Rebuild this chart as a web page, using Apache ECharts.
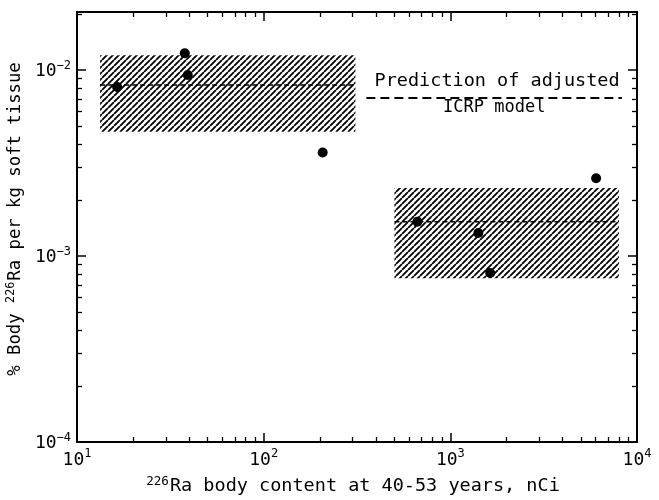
<!DOCTYPE html>
<html><head><meta charset="utf-8">
<script src="https://cdn.jsdelivr.net/npm/echarts@6/dist/echarts.min.js"></script>
<style>html,body{margin:0;padding:0;background:#fff}#c{width:659px;height:500px}</style>
</head><body><div id="c"></div>
<script>
// ---- data ----
const pointX = [16.4, 37.8, 39.2, 207, 666, 1412, 1636, 6040];
const pointY = [0.0081, 0.0123, 0.0094, 0.0036, 0.00153, 0.00133, 0.00081, 0.00262];
const bandX0 = [13.3, 502];
const bandX1 = [310, 8000];
const bandLow = [0.00465, 0.00076];
const bandHigh = [0.0120, 0.00232];
const bandMid = [0.0083, 0.00153];
const predictionX = [355, 8300];
const predictionY = [0.00706, 0.00706];
const xMajorTicks = [10, 100, 1000, 10000];
const yMajorTicks = [0.0001, 0.001, 0.01];
const minorMult = [2, 3, 4, 5, 6, 7, 8, 9];
const xMinorTicks = [10, 100, 1000].flatMap(d => minorMult.map(m => d * m));
const yMinorTicks = [0.0001, 0.001, 0.01].flatMap(d => minorMult.map(m => +(d * m).toPrecision(3)));
const predictionLabel1 = 'Prediction of adjusted';
const predictionLabel2 = 'ICRP model';
const xTitle = '{s|226}{t|Ra body content at 40-53 years, nCi}';
const yTitle = '{t|% Body }{s|226}{t|Ra per kg soft tissue}';

const FONT = '"DejaVu Sans Mono", monospace';
const X_MIN = 10, X_MAX = 10000, Y_MIN = 0.0001, Y_MAX = 0.0205;

function hatch() {
  const c = document.createElement('canvas');
  c.width = 6; c.height = 6;
  const g = c.getContext('2d');
  g.strokeStyle = '#000'; g.lineWidth = 1.8;
  g.beginPath();
  for (const dx of [-6, 0, 6]) { g.moveTo(dx, 6); g.lineTo(dx + 6, 0); }
  g.stroke();
  return c;
}
const hatchPattern = { image: hatch(), repeat: 'repeat' };

function powLabel(v) {
  const e = Math.round(Math.log10(v));
  return '{b|10}{s|' + (e < 0 ? '−' + (-e) : e) + '}';
}
const richLab = {
  b: { fontFamily: FONT, fontSize: 18, color: '#000', verticalAlign: 'bottom' },
  s: { fontFamily: FONT, fontSize: 12, color: '#000', verticalAlign: 'bottom', padding: [0, 0, 9, 0] }
};
function richName(size) {
  return {
    t: { fontFamily: FONT, fontSize: size, color: '#000', verticalAlign: 'bottom' },
    s: { fontFamily: FONT, fontSize: size * 0.68, color: '#000', verticalAlign: 'bottom', padding: [0, 1, Math.round(size * 0.42), 0] }
  };
}

function axisPair(pos, major, minor, min, max, withLabels, extra) {
  const main = Object.assign({
    type: 'log', position: pos, min: min, max: max, logBase: 10,
    axisLine: { show: true, lineStyle: { color: '#000', width: 2 } },
    axisTick: { show: true, inside: true, length: 9, customValues: major, lineStyle: { color: '#000', width: 1.5 } },
    axisLabel: withLabels ? { show: true, customValues: major, formatter: powLabel, rich: richLab, margin: 6 } : { show: false },
    splitLine: { show: false }, minorTick: { show: false }
  }, extra || {});
  const sub = {
    type: 'log', position: pos, min: min, max: max, logBase: 10,
    axisLine: { show: false },
    axisTick: { show: true, inside: true, length: 5, customValues: minor, lineStyle: { color: '#000', width: 1.3 } },
    axisLabel: { show: false }, splitLine: { show: false }
  };
  return [main, sub];
}

const xAxes = [
  ...axisPair('bottom', xMajorTicks, xMinorTicks, X_MIN, X_MAX, true, {
    name: xTitle, nameLocation: 'middle', nameGap: 33,
    nameTextStyle: { rich: richName(18.5), padding: [0, 8, 0, 0] }
  }),
  ...axisPair('top', xMajorTicks, xMinorTicks, X_MIN, X_MAX, false)
];
const yAxes = [
  ...axisPair('left', yMajorTicks, yMinorTicks, Y_MIN, Y_MAX, true, {
    name: yTitle, nameLocation: 'middle', nameGap: 50,
    nameTextStyle: { rich: richName(17.3), padding: [0, 0, 0, 16] }
  }),
  ...axisPair('right', yMajorTicks, yMinorTicks, Y_MIN, Y_MAX, false)
];

const bandData = bandX0.map((x0, i) => [x0, bandX1[i], bandLow[i], bandHigh[i], bandMid[i]]);

const chart = echarts.init(document.getElementById('c'), null, { renderer: 'canvas' });
chart.setOption({
  animation: false,
  backgroundColor: '#fff',
  grid: { left: 77, right: 22, top: 12, bottom: 58, containLabel: false, outerBoundsMode: 'none' },
  xAxis: xAxes,
  yAxis: yAxes,
  series: [
    {
      type: 'custom', xAxisIndex: 0, yAxisIndex: 0,
      encode: { x: [0, 1], y: [2, 3, 4] },
      data: bandData,
      renderItem: function (params, api) {
        const tl = api.coord([api.value(0), api.value(3)]);
        const br = api.coord([api.value(1), api.value(2)]);
        const ml = api.coord([api.value(0), api.value(4)]);
        const mr = api.coord([api.value(1), api.value(4)]);
        return {
          type: 'group',
          children: [
            { type: 'rect', shape: { x: tl[0], y: tl[1], width: br[0] - tl[0], height: br[1] - tl[1] },
              style: { fill: hatchPattern, stroke: null } },
            { type: 'line', shape: { x1: ml[0], y1: ml[1], x2: mr[0], y2: mr[1] },
              style: { stroke: '#000', lineWidth: 1.5, lineDash: [5, 3] } }
          ]
        };
      },
      z: 1
    },
    {
      type: 'line', xAxisIndex: 0, yAxisIndex: 0,
      data: predictionX.map((x, i) => [x, predictionY[i]]),
      symbol: 'none',
      lineStyle: { color: '#000', width: 2, type: [9, 5] },
      z: 2
    },
    {
      type: 'scatter', xAxisIndex: 0, yAxisIndex: 0,
      data: [[1780, 0.00873, predictionLabel1], [1718, 0.00625, predictionLabel2]],
      symbolSize: 0,
      itemStyle: { opacity: 1 },
      label: { show: true, position: 'inside',
        formatter: p => (p.dataIndex === 0 ? '{a|' : '{b|') + p.value[2] + '}',
        rich: {
          a: { fontFamily: FONT, fontSize: 18.5, color: '#000' },
          b: { fontFamily: FONT, fontSize: 17, color: '#000' }
        }, textBorderWidth: 0 },
      z: 3
    },
    {
      type: 'scatter', xAxisIndex: 0, yAxisIndex: 0,
      data: pointX.map((x, i) => [x, pointY[i]]),
      symbol: 'circle', symbolSize: 10,
      itemStyle: { color: '#000', opacity: 1 },
      z: 4
    }
  ]
});
</script>
</body></html>
